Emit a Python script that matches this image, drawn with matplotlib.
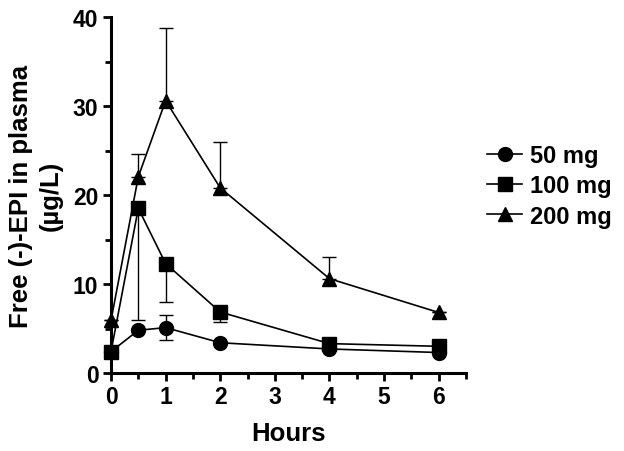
import matplotlib
matplotlib.use("Agg")
import matplotlib.pyplot as plt
import numpy as np
from matplotlib.ticker import MultipleLocator
from matplotlib.lines import Line2D

plt.rcParams['font.family'] = ['Liberation Sans', 'DejaVu Sans']
plt.rcParams['font.weight'] = 'bold'

hours = [0, 0.5, 1, 2, 4, 6]
labels = ["50 mg", "100 mg", "200 mg"]
mean_50 = [2.4, 4.8, 5.1, 3.4, 2.7, 2.3]
err50_lo = [0, 0, 1.4, 0, 0, 0]
err50_hi = [0, 0, 1.45, 0, 0, 0]
mean_100 = [2.4, 18.5, 12.3, 6.85, 3.3, 3.0]
err100_lo = [0, 12.6, 4.3, 1.15, 0, 0]
err100_hi = [0, 0, 0, 0, 0, 0]
mean_200 = [5.9, 22.05, 30.6, 20.8, 10.6, 6.8]
err200_lo = [0, 0, 0, 0, 0, 0]
err200_hi = [0, 2.55, 8.2, 5.2, 2.4, 0]

W, H = 624, 452
fig = plt.figure(figsize=(W / 100, H / 100), dpi=100)
ax = fig.add_axes([111 / W, (H - 374) / H, (466 - 111) / W, (374 - 18) / H])

series = [
    (mean_50, err50_lo, err50_hi, 'o', 10),
    (mean_100, err100_lo, err100_hi, 's', 10),
    (mean_200, err200_lo, err200_hi, '^', 10.5),
]
handles = []
for (m, lo, hi, mk, ms), lab in zip(series, labels):
    ax.errorbar(hours, m, yerr=[lo, hi], color='black', marker=mk, ms=ms,
                lw=1.2, elinewidth=1.0, capsize=5, capthick=1.0,
                clip_on=False, zorder=3)
    handles.append(Line2D([], [], color='black', marker=mk, ms=ms, lw=1.2, label=lab))

ax.set_xlim(0, 6.5)
ax.set_ylim(0, 40)
ax.xaxis.set_major_locator(MultipleLocator(1))
ax.xaxis.set_minor_locator(MultipleLocator(0.5))
ax.yaxis.set_major_locator(MultipleLocator(10))
ax.yaxis.set_minor_locator(MultipleLocator(5))
ax.set_xticks([0, 1, 2, 3, 4, 5, 6])
for s in ['top', 'right']:
    ax.spines[s].set_visible(False)
for s in ['left', 'bottom']:
    ax.spines[s].set_linewidth(2.2)
ax.tick_params(which='major', length=6, width=2.0, labelsize=16.5, pad=3)
ax.tick_params(which='minor', length=4, width=2.0)
for t in ax.get_xticklabels() + ax.get_yticklabels():
    t.set_fontweight('bold')

ax.set_xlabel("Hours", fontsize=18.5, fontweight='bold', labelpad=9)
ax.set_ylabel("Free (-)-EPI in plasma\n(\u00b5g/L)", fontsize=18.5, fontweight='bold',
              labelpad=7, linespacing=1.3)

leg = ax.legend(handles=handles, loc='center left', bbox_to_anchor=(487 / W, 1 - 187 / H),
                bbox_transform=fig.transFigure, frameon=False, fontsize=17,
                handlelength=1.5, handletextpad=0.3, labelspacing=0.3,
                borderpad=0, borderaxespad=0)
for t in leg.get_texts():
    t.set_fontweight('bold')

fig.savefig("out.png", dpi=100)
